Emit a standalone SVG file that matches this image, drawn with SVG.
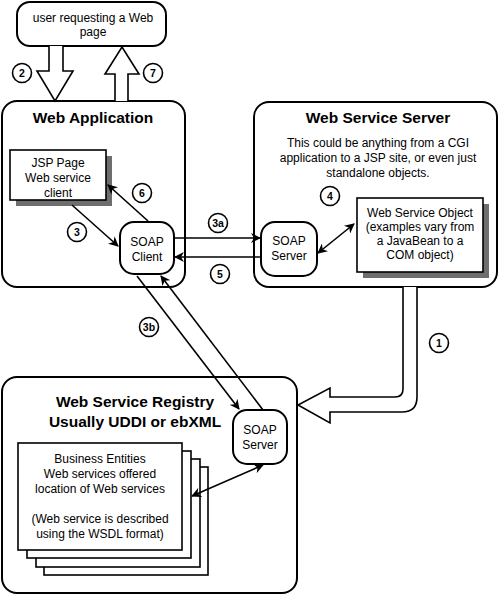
<svg xmlns="http://www.w3.org/2000/svg" width="500" height="595" viewBox="0 0 500 595">
<defs>
<marker id="ah" viewBox="0 0 10 10" refX="9" refY="5" markerWidth="10" markerHeight="10" markerUnits="userSpaceOnUse" orient="auto-start-reverse">
<path d="M0,0 L10,5 L0,10 L3,5 z" fill="#000"/>
</marker>
</defs>
<style>
.box{fill:#fff;stroke:#000;stroke-width:2}
.thin{fill:#fff;stroke:#000;stroke-width:1.6}
.shadow{fill:#6e6e6e}
.hollow{fill:#fff;stroke:#000;stroke-width:1.6;stroke-linejoin:miter}
.ln{fill:none;stroke:#000;stroke-width:1.6}
.num{fill:#fff;stroke:#000;stroke-width:1.6}
text{font-family:"Liberation Sans",Arial,sans-serif;fill:#000}
.t{font-size:12px;text-anchor:middle}
.title{font-size:15.5px;font-weight:bold;text-anchor:middle}
.n{font-size:10.5px;font-weight:bold;text-anchor:middle}
</style>
<rect width="500" height="595" fill="#fff"/>

<g id="user">
<rect class="box" x="17" y="2" width="149" height="44" rx="13"/>
<text class="t" x="93" y="22">user requesting a Web</text>
<text class="t" x="93" y="36">page</text>
</g>

<g id="webapp">
<rect class="box" x="2" y="101" width="183" height="186" rx="15"/>
<text class="title" x="93" y="123">Web Application</text>
</g>

<g id="jsp">
<rect class="shadow" x="16" y="156" width="96" height="50"/>
<rect class="thin" x="10" y="150" width="96" height="50"/>
<text class="t" x="58" y="167">JSP Page</text>
<text class="t" x="58" y="182">Web service</text>
<text class="t" x="58" y="197">client</text>
</g>

<g id="soapclient">
<rect class="box" x="120" y="222" width="54" height="52" rx="14"/>
<text class="t" x="147" y="246">SOAP</text>
<text class="t" x="147" y="261">Client</text>
</g>

<g id="wss">
<rect class="box" x="254" y="102" width="243" height="185" rx="15"/>
<text class="title" x="378" y="123">Web Service Server</text>
<text class="t" x="378" y="147">This could be anything from a CGI</text>
<text class="t" x="378" y="162">application to a JSP site, or even just</text>
<text class="t" x="378" y="177">standalone objects.</text>
</g>

<g id="soapserver1">
<rect class="box" x="261" y="222" width="56" height="54" rx="14"/>
<text class="t" x="289" y="245">SOAP</text>
<text class="t" x="289" y="260">Server</text>
</g>

<g id="wso">
<rect class="shadow" x="363" y="204" width="126" height="74"/>
<rect class="thin" x="357" y="198" width="126" height="74"/>
<text class="t" x="420" y="217">Web Service Object</text>
<text class="t" x="420" y="231">(examples vary from</text>
<text class="t" x="420" y="245">a JavaBean to a</text>
<text class="t" x="420" y="259">COM object)</text>
</g>

<g id="registry">
<rect class="box" x="2" y="377" width="295" height="216" rx="15"/>
<text class="title" x="135" y="407">Web Service Registry</text>
<text class="title" x="135" y="427">Usually UDDI or ebXML</text>
</g>

<g id="soapserver2">
<rect class="box" x="233" y="410" width="54" height="54" rx="14"/>
<text class="t" x="260" y="434">SOAP</text>
<text class="t" x="260" y="449">Server</text>
</g>

<g id="pages">
<rect class="thin" x="44" y="467" width="164" height="108"/>
<rect class="thin" x="36" y="459" width="164" height="108"/>
<rect class="thin" x="27" y="451" width="164" height="107"/>
<rect class="thin" x="18" y="443" width="164" height="107"/>
<text class="t" x="100" y="463">Business Entities</text>
<text class="t" x="100" y="478">Web services offered</text>
<text class="t" x="100" y="493">location of Web services</text>
<text class="t" x="100" y="523">(Web service is described</text>
<text class="t" x="100" y="538">using the WSDL format)</text>
</g>

<g id="connectors">
<path class="hollow" d="M49,46 L49,71 L37,71 L55,101 L73,71 L63,71 L63,46"/>
<path class="hollow" d="M115,101 L115,74 L105,74 L122,47 L139,74 L128,74 L128,101"/>
<path class="hollow" d="M403,287 L403,389 Q403,397 395,397 L330,397 L330,388 L298,405 L330,423 L330,412 L402,412 Q417,412 417,397 L417,287"/>
<line class="ln" x1="148" y1="221" x2="108" y2="185" marker-end="url(#ah)"/>
<line class="ln" x1="72" y1="205" x2="118" y2="246" marker-end="url(#ah)"/>
<line class="ln" x1="174" y1="238" x2="260" y2="238" marker-end="url(#ah)"/>
<line class="ln" x1="261" y1="257" x2="175" y2="257" marker-end="url(#ah)"/>
<line class="ln" x1="318" y1="253" x2="354" y2="224" marker-start="url(#ah)" marker-end="url(#ah)"/>
<line class="ln" x1="137" y1="276" x2="239" y2="409" marker-end="url(#ah)"/>
<line class="ln" x1="263" y1="410" x2="161" y2="276" marker-end="url(#ah)"/>
<line class="ln" x1="192" y1="496" x2="263" y2="465" marker-start="url(#ah)" marker-end="url(#ah)"/>
</g>

<g id="labels">
<circle class="num" cx="22" cy="73" r="9.5"/><text class="n" x="22" y="77">2</text>
<circle class="num" cx="153" cy="73" r="9.5"/><text class="n" x="153" y="77">7</text>
<circle class="num" cx="142" cy="193" r="9.5"/><text class="n" x="142" y="197">6</text>
<circle class="num" cx="77" cy="232" r="9.5"/><text class="n" x="77" y="236">3</text>
<circle class="num" cx="218" cy="223" r="9.5"/><text class="n" x="218" y="227">3a</text>
<circle class="num" cx="220" cy="274" r="9.5"/><text class="n" x="220" y="278">5</text>
<circle class="num" cx="330" cy="196" r="9.5"/><text class="n" x="330" y="200">4</text>
<circle class="num" cx="149" cy="327" r="9.5"/><text class="n" x="149" y="331">3b</text>
<circle class="num" cx="439" cy="343" r="9.5"/><text class="n" x="439" y="347">1</text>
</g>
</svg>
